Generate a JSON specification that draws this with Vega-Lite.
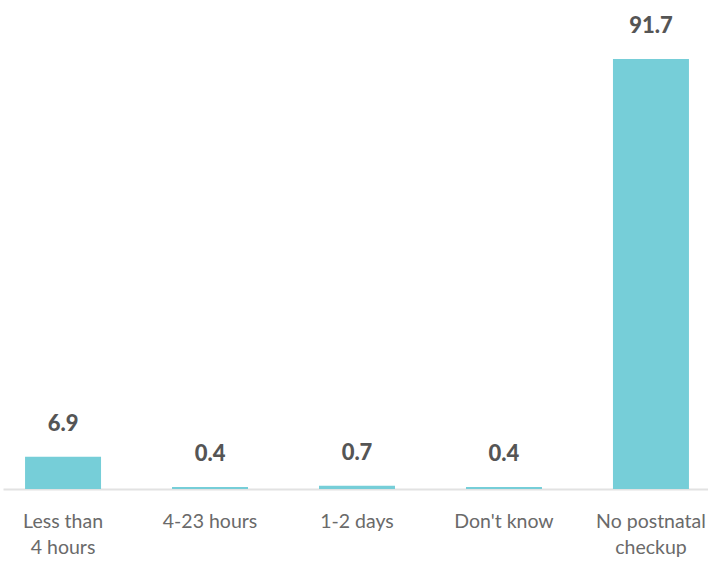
{
  "$schema": "https://vega.github.io/schema/vega-lite/v6.json",
  "width": 708,
  "height": 489,
  "autosize": "none",
  "padding": {"left": 0, "top": 0, "right": 0, "bottom": 72},
  "background": "white",
  "config": {"view": {"stroke": null}},
  "data": {
    "values": [
      {"timing": "Less than 4 hours", "pct": 6.9},
      {"timing": "4-23 hours", "pct": 0.4},
      {"timing": "1-2 days", "pct": 0.7},
      {"timing": "Don't know", "pct": 0.4},
      {"timing": "No postnatal checkup", "pct": 91.7}
    ]
  },
  "encoding": {
    "x": {
      "field": "timing",
      "type": "nominal",
      "sort": null,
      "scale": {"paddingInner": 0.483, "paddingOuter": 0.15, "range": [3, 711]},
      "axis": {
        "title": null,
        "labelAngle": 0,
        "ticks": false,
        "domainColor": "#e2e2e2",
        "domainWidth": 2,
        "labelFont": "Lato",
        "labelFontSize": 19.5,
        "labelFontWeight": 400,
        "labelColor": "#6a6a6a",
        "labelPadding": 23,
        "labelBaseline": "top",
        "labelLineHeight": 26,
        "labelLimit": 200,
        "labelExpr": "datum.value == 'Less than 4 hours' ? ['Less than', '4 hours'] : datum.value == 'No postnatal checkup' ? ['No postnatal', 'checkup'] : datum.value"
      }
    },
    "y": {
      "field": "pct",
      "type": "quantitative",
      "scale": {"domain": [0, 104.3], "nice": false},
      "axis": null
    }
  },
  "layer": [
    {"mark": {"type": "bar", "color": "#76CED8"}},
    {
      "mark": {
        "type": "text",
        "font": "Lato",
        "fontWeight": 900,
        "fontSize": 22,
        "color": "#555555",
        "baseline": "alphabetic",
        "dy": -26
      },
      "encoding": {"text": {"field": "pct", "type": "quantitative", "format": ".1f"}}
    }
  ]
}
